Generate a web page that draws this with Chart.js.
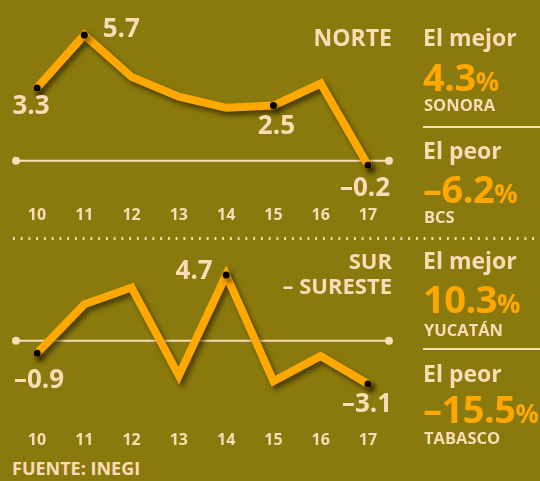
<!DOCTYPE html>
<html lang="es">
<head>
  <meta charset="UTF-8">
  <title>Crecimiento por región</title>
  <script src="https://cdn.jsdelivr.net/npm/chart.js"></script>
  <style>
    html, body { margin: 0; padding: 0; }
    body {
      width: 540px; height: 481px; overflow: hidden; position: relative;
      background: #8a7a0d; font-family: "Open Sans", sans-serif; font-weight: 700;
      color: #fcdcb6;
    }
    canvas { position: absolute; left: 0; }
    #norteChart { top: 0; }
    #surChart { top: 240px; }
    .t { position: absolute; line-height: 1; white-space: nowrap; }
    .region { right: 148px; font-size: 22px; text-align: right; }
    .head { left: 423px; font-size: 23px; }
    .big { left: 423px; font-size: 38px; color: #ffa800; letter-spacing: -0.5px; }
    .big small { font-size: 26px; letter-spacing: 0; }
    .state { left: 424px; font-size: 16.5px; }
    .rule { position: absolute; left: 423px; width: 117px; height: 2px; background: #fcdcb6; }
    .dots {
      position: absolute; left: 10px; width: 530px; top: 237px; height: 3px;
      background-image: radial-gradient(circle, #fcdcb6 1.1px, transparent 1.4px);
      background-size: 7.75px 3px;
    }
  </style>
</head>
<body>

  <canvas id="norteChart" width="400" height="230"></canvas>
  <canvas id="surChart" width="400" height="215"></canvas>

  <div class="t region" style="top:26px; font-size:23px;">NORTE</div>
  <div class="t region" style="top:249px">SUR</div>
  <div class="t region" style="top:274px">– SURESTE</div>

  <!-- bloque norte -->
  <div class="t head" style="top:26px">El mejor</div>
  <div class="t big" style="top:57px">4.3<small>%</small></div>
  <div class="t state" style="top:97px">SONORA</div>
  <div class="rule" style="top:126px"></div>
  <div class="t head" style="top:139px">El peor</div>
  <div class="t big" style="top:169px">–6.2<small>%</small></div>
  <div class="t state" style="top:209px">BCS</div>

  <div class="dots"></div>

  <!-- bloque sur -->
  <div class="t head" style="top:249px">El mejor</div>
  <div class="t big" style="top:279px">10.3<small>%</small></div>
  <div class="t state" style="top:322px">YUCATÁN</div>
  <div class="rule" style="top:348px"></div>
  <div class="t head" style="top:362px">El peor</div>
  <div class="t big" style="top:389px">–15.5<small>%</small></div>
  <div class="t state" style="top:430px">TABASCO</div>

  <div class="t" style="left:12px; top:459px; font-size:18px;">FUENTE: INEGI</div>

  <script>
    // datos
    const years = ['10', '11', '12', '13', '14', '15', '16', '17'];
    const norteValues = [3.3, 5.7, 3.8, 2.9, 2.4, 2.5, 3.5, -0.2];
    const norteMarked = [0, 1, 5, 7];
    const surValues = [-0.9, 2.6, 3.8, -2.5, 4.7, -2.9, -1.1, -3.1];
    const surMarked = [0, 4, 7];

    const CREAM = '#fcdcb6';
    const ORANGE = '#ffa800';
    const FONT = '"Open Sans", sans-serif';

    function fmt(v) {
      return (v < 0 ? '–' : '') + Math.abs(v).toFixed(1);
    }

    // linea del cero con puntos en los extremos, sombra y etiquetas
    const decor = {
      id: 'decor',
      beforeDatasetsDraw(chart) {
        const ctx = chart.ctx;
        const y = chart.scales.y.getPixelForValue(0);
        ctx.save();
        ctx.strokeStyle = CREAM;
        ctx.lineWidth = 2;
        ctx.beginPath();
        ctx.moveTo(16, y);
        ctx.lineTo(389, y);
        ctx.stroke();
        ctx.fillStyle = CREAM;
        [16, 389].forEach(x => {
          ctx.beginPath();
          ctx.arc(x, y, 4, 0, Math.PI * 2);
          ctx.fill();
        });
        ctx.restore();
        ctx.save();
        ctx.shadowColor = 'rgba(40, 30, 0, 0.65)';
        ctx.shadowBlur = 5;
        ctx.shadowOffsetX = 3;
        ctx.shadowOffsetY = 4;
      },
      afterDatasetsDraw(chart, args, opts) {
        const ctx = chart.ctx;
        ctx.restore();
        const meta = chart.getDatasetMeta(0);
        const values = chart.data.datasets[0].data;
        ctx.save();
        ctx.fillStyle = CREAM;
        ctx.font = 'bold 26px ' + FONT;
        ctx.textAlign = 'center';
        ctx.textBaseline = 'middle';
        opts.marked.forEach((i, k) => {
          const p = meta.data[i];
          const off = opts.offsets[k];
          ctx.fillText(fmt(values[i]), p.x + off[0], p.y + off[1]);
        });
        ctx.restore();
      }
    };

    function makeChart(id, values, marked, yMin, yMax, top, offsets) {
      return new Chart(document.getElementById(id), {
        type: 'line',
        data: {
          labels: years,
          datasets: [{
            data: values,
            borderColor: ORANGE,
            borderWidth: 8,
            borderJoinStyle: 'miter',
            borderCapStyle: 'round',
            tension: 0,
            fill: false,
            clip: false,
            pointRadius: c => marked.includes(c.dataIndex) ? 3.5 : 0,
            pointBackgroundColor: '#000',
            pointBorderWidth: 0
          }]
        },
        options: {
          responsive: false,
          animation: false,
          layout: { padding: { left: 37, right: 32, top: top, bottom: 0 } },
          plugins: {
            legend: { display: false },
            tooltip: { enabled: false },
            decor: { marked: marked, offsets: offsets }
          },
          scales: {
            x: {
              offset: false,
              grid: { display: false, drawTicks: false },
              border: { display: false },
              ticks: {
                color: CREAM, padding: 6, maxRotation: 0, autoSkip: false,
                font: { family: FONT, weight: 'bold', size: 16 }
              },
              afterFit: a => { a.height = 30; }
            },
            y: { display: false, min: yMin, max: yMax }
          }
        },
        plugins: [decor]
      });
    }

    makeChart('norteChart', norteValues, norteMarked, -1.78, 6.38, 20,
      [[-6, 19], [37, -5], [3, 21], [-3, 23]]);
    makeChart('surChart', surValues, surMarked, -6.03, 6.13, 15,
      [[2, 27], [-32, -3], [-1, 21]]);
  </script>

</body>
</html>
